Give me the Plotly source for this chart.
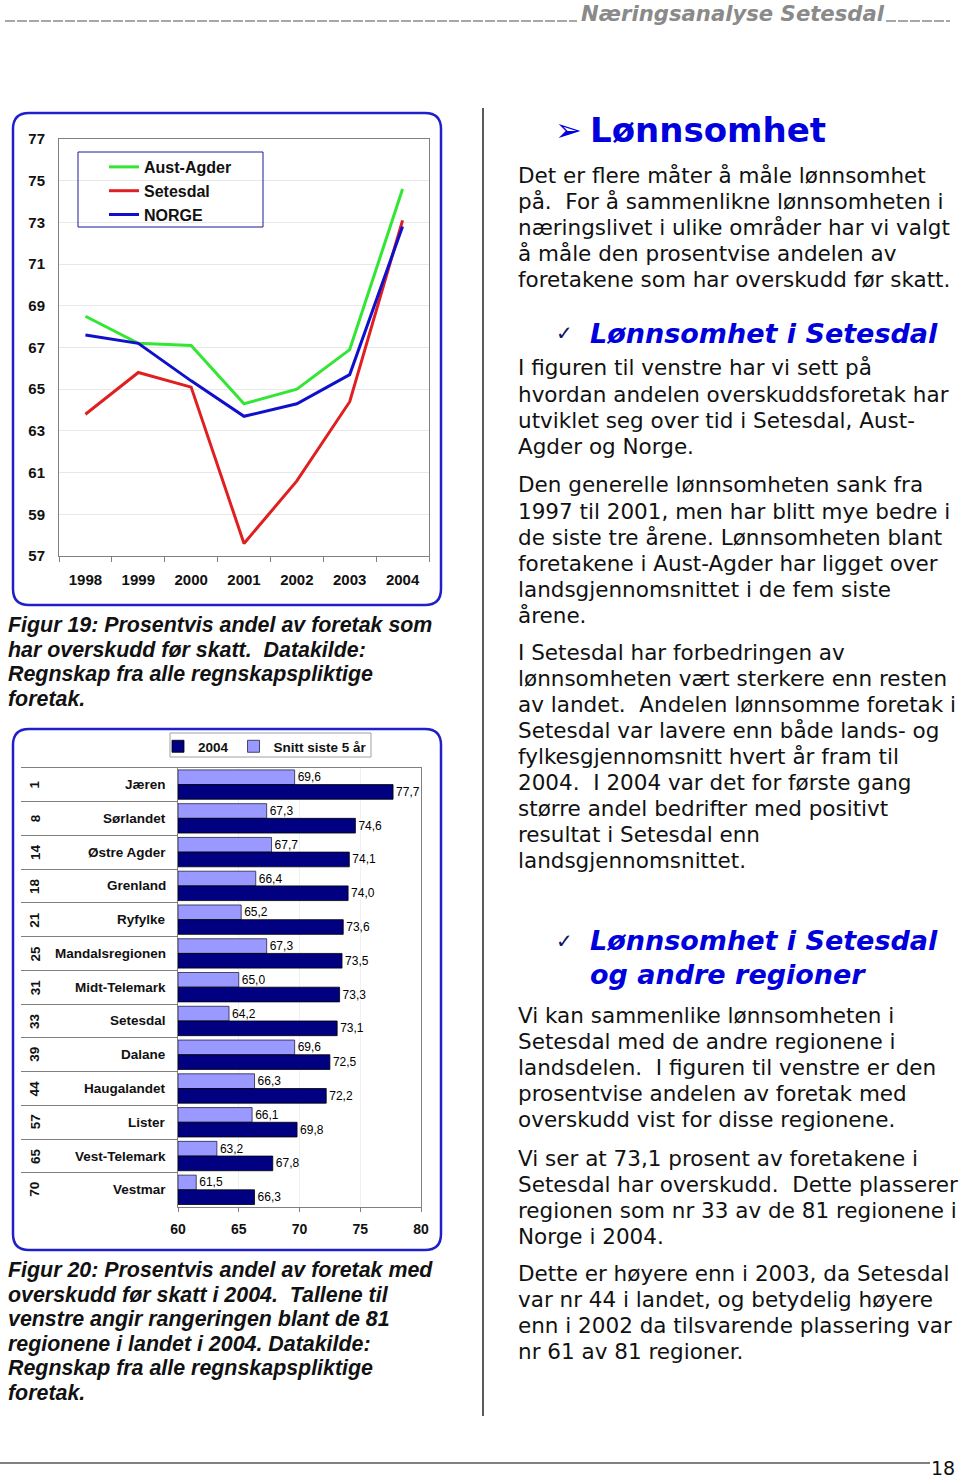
import plotly.graph_objects as go

W, H = 960, 1481


def px(x):
    return x / W


def py(y):
    return 1 - y / H


# ---------------- data ----------------
years = ["1998", "1999", "2000", "2001", "2002", "2003", "2004"]
aust_agder = [68.5, 67.2, 67.1, 64.3, 65.0, 66.9, 74.6]
setesdal = [63.8, 65.8, 65.1, 57.6, 60.6, 64.4, 73.1]
norge = [67.6, 67.2, 65.4, 63.7, 64.3, 65.7, 72.8]

regions = ["Jæren", "Sørlandet", "Østre Agder", "Grenland", "Ryfylke",
           "Mandalsregionen", "Midt-Telemark", "Setesdal", "Dalane",
           "Haugalandet", "Lister", "Vest-Telemark", "Vestmar"]
ranks = ["1", "8", "14", "18", "21", "25", "31", "33", "39", "44", "57", "65", "70"]
snitt_5ar = [69.6, 67.3, 67.7, 66.4, 65.2, 67.3, 65.0, 64.2, 69.6, 66.3, 66.1, 63.2, 61.5]
andel_2004 = [77.7, 74.6, 74.1, 74.0, 73.6, 73.5, 73.3, 73.1, 72.5, 72.2, 69.8, 67.8, 66.3]
bar_axis_min = 60

line_ticks = list(range(57, 78, 2))
bar_ticks = [60, 65, 70, 75, 80]

ARIAL = "Liberation Sans, Arial, sans-serif"
DEJAVU = "DejaVu Sans, Verdana, sans-serif"


def fmt(v):
    return f"{v:.1f}".replace(".", ",")


fig = go.Figure()

# ---------------- line chart ----------------
for name, vals, col in [("Aust-Agder", aust_agder, "#33e633"),
                        ("Setesdal", setesdal, "#e02020"),
                        ("NORGE", norge, "#1010cc")]:
    fig.add_trace(go.Scatter(x=years, y=vals, name=name, mode="lines",
                             line=dict(color=col, width=3),
                             xaxis="x", yaxis="y", legend="legend",
                             hoverinfo="skip"))

# ---------------- bar chart ----------------
fig.add_trace(go.Bar(
    y=regions, x=[v - bar_axis_min for v in snitt_5ar], base=bar_axis_min,
    orientation="h", name="Snitt siste 5 år",
    marker=dict(color="#9999ff", line=dict(color="#222244", width=0.8)),
    text=[fmt(v) for v in snitt_5ar], textposition="outside",
    textfont=dict(family=ARIAL, size=12, color="black"),
    constraintext="none", cliponaxis=False,
    xaxis="x2", yaxis="y2", legend="legend2", legendrank=2, hoverinfo="skip"))
fig.add_trace(go.Bar(
    y=regions, x=[v - bar_axis_min for v in andel_2004], base=bar_axis_min,
    orientation="h", name="2004",
    marker=dict(color="#000080", line=dict(color="#000000", width=0.8)),
    text=[fmt(v) for v in andel_2004], textposition="outside",
    textfont=dict(family=ARIAL, size=12, color="black"),
    constraintext="none", cliponaxis=False,
    xaxis="x2", yaxis="y2", legend="legend2", legendrank=1, hoverinfo="skip"))

shapes = []
annotations = []


def rounded(x0, y0, x1, y1, r, color, width):
    p = (f"M {px(x0 + r)},{py(y0)} L {px(x1 - r)},{py(y0)} "
         f"Q {px(x1)},{py(y0)} {px(x1)},{py(y0 + r)} "
         f"L {px(x1)},{py(y1 - r)} Q {px(x1)},{py(y1)} {px(x1 - r)},{py(y1)} "
         f"L {px(x0 + r)},{py(y1)} Q {px(x0)},{py(y1)} {px(x0)},{py(y1 - r)} "
         f"L {px(x0)},{py(y0 + r)} Q {px(x0)},{py(y0)} {px(x0 + r)},{py(y0)} Z")
    return dict(type="path", path=p, xref="paper", yref="paper",
                line=dict(color=color, width=width), layer="below")


def rect(x0, y0, x1, y1, color, width=1):
    return dict(type="rect", xref="paper", yref="paper", x0=px(x0), x1=px(x1),
                y0=py(y1), y1=py(y0), line=dict(color=color, width=width),
                fillcolor="rgba(0,0,0,0)")


def hline(x0, x1, y, color, width=1, dash=None):
    d = dict(type="line", xref="paper", yref="paper", x0=px(x0), x1=px(x1),
             y0=py(y), y1=py(y), line=dict(color=color, width=width))
    if dash:
        d["line"]["dash"] = dash
    return d


shapes.append(rounded(13, 113, 441, 605, 16, "#2020c8", 2.5))
shapes.append(rounded(13, 729, 441, 1250, 16, "#2020c8", 2.5))
shapes.append(rect(78, 152, 263, 227, "#1a1a99", 1))
shapes.append(rect(170, 733, 371, 757, "#a0a0a0", 1))

# header/footer/divider
shapes.append(hline(5, 577, 21, "#8a8a8a", 1.6, "10px,2px"))
shapes.append(hline(886, 950, 21, "#8a8a8a", 1.6, "10px,2px"))
shapes.append(hline(0, 930, 1463, "#000000", 1))
shapes.append(dict(type="line", xref="paper", yref="paper", x0=px(483), x1=px(483),
                   y0=py(1416), y1=py(108), line=dict(color="#000000", width=1.3)))


def text(x, y, s, size, family=ARIAL, color="#111111", anchor="left",
         bold=False, italic=False, angle=0):
    annotations.append(dict(
        x=px(x), y=py(y), xref="paper", yref="paper", text=s, showarrow=False,
        xanchor=anchor, yanchor="middle", textangle=angle,
        font=dict(family=family, size=size, color=color,
                  weight="bold" if bold else "normal",
                  style="italic" if italic else "normal")))


text(579, 13, "Næringsanalyse Setesdal", 21.2, DEJAVU, "#8a8a8a", bold=True, italic=True)
text(957, 1468, "18", 19, DEJAVU, "#111111", anchor="right")

# bar chart category labels
for reg, rk in zip(regions, ranks):
    annotations.append(dict(x=px(168), xref="paper", y=reg, yref="y2", text=reg,
                            showarrow=False, xanchor="right", yanchor="middle",
                            font=dict(family=ARIAL, size=13.5, color="#111111",
                                      weight="bold")))
    annotations.append(dict(x=px(35), xref="paper", y=reg, yref="y2", text=rk,
                            showarrow=False, xanchor="center", yanchor="middle",
                            textangle=-90,
                            font=dict(family=ARIAL, size=13.5, color="#111111",
                                      weight="bold")))

# captions
cap19 = ["Figur 19: Prosentvis andel av foretak som",
         "har overskudd før skatt.  Datakilde:",
         "Regnskap fra alle regnskapspliktige",
         "foretak."]
cap20 = ["Figur 20: Prosentvis andel av foretak med",
         "overskudd før skatt i 2004.  Tallene til",
         "venstre angir rangeringen blant de 81",
         "regionene i landet i 2004. Datakilde:",
         "Regnskap fra alle regnskapspliktige",
         "foretak."]
for i, s in enumerate(cap19):
    text(6, 625 + i * 24.7, s, 21.4, ARIAL, "#111111", bold=True, italic=True)
for i, s in enumerate(cap20):
    text(6, 1270 + i * 24.6, s, 21.4, ARIAL, "#111111", bold=True, italic=True)

# right column
BLUE = "#0000dd"
text(553, 130, "➢", 32, DEJAVU, BLUE)
text(588, 130, "Lønnsomhet", 34, DEJAVU, BLUE, bold=True)
text(554, 333, "✓", 20, DEJAVU, "#111166")
text(588, 333, "Lønnsomhet i Setesdal", 27, DEJAVU, BLUE, bold=True, italic=True)
text(554, 941, "✓", 20, DEJAVU, "#111166")
text(588, 941, "Lønnsomhet i Setesdal", 27, DEJAVU, BLUE, bold=True, italic=True)
text(588, 975, "og andre regioner", 27, DEJAVU, BLUE, bold=True, italic=True)

paras = [
    (175, ["Det er flere måter å måle lønnsomhet",
           "på.  For å sammenlikne lønnsomheten i",
           "næringslivet i ulike områder har vi valgt",
           "å måle den prosentvise andelen av",
           "foretakene som har overskudd før skatt."]),
    (368, ["I figuren til venstre har vi sett på",
           "hvordan andelen overskuddsforetak har",
           "utviklet seg over tid i Setesdal, Aust-",
           "Agder og Norge."]),
    (485, ["Den generelle lønnsomheten sank fra",
           "1997 til 2001, men har blitt mye bedre i",
           "de siste tre årene. Lønnsomheten blant",
           "foretakene i Aust-Agder har ligget over",
           "landsgjennomsnittet i de fem siste",
           "årene."]),
    (652, ["I Setesdal har forbedringen av",
           "lønnsomheten vært sterkere enn resten",
           "av landet.  Andelen lønnsomme foretak i",
           "Setesdal var lavere enn både lands- og",
           "fylkesgjennomsnitt hvert år fram til",
           "2004.  I 2004 var det for første gang",
           "større andel bedrifter med positivt",
           "resultat i Setesdal enn",
           "landsgjennomsnittet."]),
    (1015, ["Vi kan sammenlike lønnsomheten i",
            "Setesdal med de andre regionene i",
            "landsdelen.  I figuren til venstre er den",
            "prosentvise andelen av foretak med",
            "overskudd vist for disse regionene."]),
    (1158, ["Vi ser at 73,1 prosent av foretakene i",
            "Setesdal har overskudd.  Dette plasserer",
            "regionen som nr 33 av de 81 regionene i",
            "Norge i 2004."]),
    (1273, ["Dette er høyere enn i 2003, da Setesdal",
            "var nr 44 i landet, og betydelig høyere",
            "enn i 2002 da tilsvarende plassering var",
            "nr 61 av 81 regioner."]),
]
for y0, lines in paras:
    for i, s in enumerate(lines):
        text(516, y0 + i * 26.1, s, 21.5, DEJAVU, "#111111")

fig.update_layout(
    width=W, height=H, autosize=False,
    margin=dict(l=0, r=0, t=0, b=0, pad=0, autoexpand=False),
    paper_bgcolor="white", plot_bgcolor="white",
    font=dict(family=ARIAL, color="#111111"),
    separators=", ",
    barmode="group", bargap=0.13, bargroupgap=0.0,
    hovermode=False,
    xaxis=dict(domain=[px(59), px(429)], anchor="y", type="category",
               range=[-0.5, len(years) - 0.5], automargin=False,
               tickson="boundaries", ticks="outside", ticklen=5,
               tickcolor="#808080", showline=True, mirror=True,
               linecolor="#808080", showgrid=False, ticklabelstandoff=10,
               tickfont=dict(family=ARIAL, size=15, color="#111111", weight="bold")),
    yaxis=dict(domain=[py(556), py(139)], anchor="x", range=[57, 77],
               tickvals=line_ticks, showgrid=True, gridcolor="#e8e8e8",
               showline=True, mirror=True, linecolor="#808080", ticks="",
               zeroline=False, ticklabelstandoff=10, automargin=False,
               tickfont=dict(family=ARIAL, size=15, color="#111111", weight="bold")),
    xaxis2=dict(domain=[px(178), px(421)], anchor="y2", range=[60, 80],
                tickvals=bar_ticks, ticks="outside", ticklen=4,
                tickcolor="#808080", showline=True, mirror=True,
                linecolor="#808080", showgrid=True, gridcolor="#f0f0f0",
                zeroline=False, ticklabelstandoff=5, automargin=False,
                tickfont=dict(family=ARIAL, size=14, color="#111111", weight="bold")),
    yaxis2=dict(domain=[py(1206.7), py(767.7)], anchor="x2", type="category",
                categoryorder="array", categoryarray=regions,
                autorange="reversed", tickson="boundaries", ticks="outside",
                ticklen=156, tickcolor="#808080", tickwidth=1,
                showticklabels=False, showline=True, mirror=True,
                linecolor="#808080", showgrid=False, automargin=False),
    legend=dict(x=px(104), y=py(150), xanchor="left", yanchor="top",
                bgcolor="rgba(0,0,0,0)", borderwidth=0, tracegroupgap=0,
                font=dict(family=ARIAL, size=16, color="#111111", weight="bold")),
    legend2=dict(x=px(158), y=py(731), xanchor="left", yanchor="top",
                 orientation="h", bgcolor="rgba(0,0,0,0)", borderwidth=0,
                 itemwidth=30, traceorder="normal",
                 font=dict(family=ARIAL, size=13.5, color="#111111", weight="bold")),
    shapes=shapes, annotations=annotations,
)

fig.write_html("out.html", config={"displayModeBar": False},
               post_script="document.body.style.margin='0';")
